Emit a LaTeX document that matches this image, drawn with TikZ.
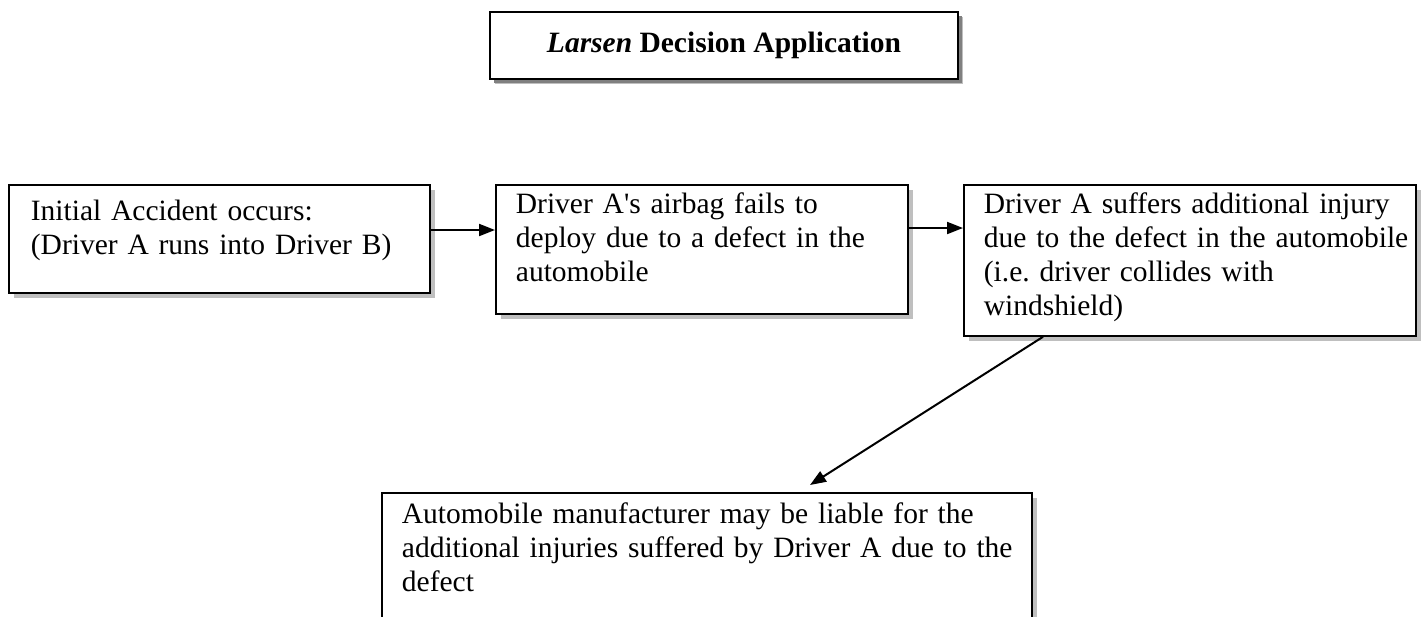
\documentclass[tikz,border=0pt]{standalone}
\usepackage{fontspec}
\setmainfont{Liberation Serif}
\usepackage{tikz}
\usetikzlibrary{calc}
\usetikzlibrary{positioning}
\usetikzlibrary{shadows}
\usetikzlibrary{arrows.meta}
\frenchspacing

\begin{document}
\begin{tikzpicture}[x=1pt, y=1pt,
        box/.style={rectangle, draw=black, line width=1.8pt, fill=white, anchor=north west, align=left,
            inner ysep=0pt, inner xsep=5pt, font=\fontsize{29.5}{34}\selectfont,
            execute at begin node={\leftskip=15pt},
            drop shadow={shadow xshift=5pt, shadow yshift=-5pt, fill=black!25, opacity=1}},
        link/.style={line width=2pt, -{Triangle[length=16pt, width=12pt]}}]
            \useasboundingbox (0, 0) rectangle (1423, -616);
            \clip (0, 0) rectangle (1423, -616);
            \node[box, anchor=center, minimum width=468pt, minimum height=67pt, inner xsep=10pt,
                font=\fontsize{29.5}{34}\selectfont\bfseries, execute at begin node={},
                drop shadow={shadow xshift=4pt, shadow yshift=-4pt, fill=black!50, opacity=1}]
                (title) at (724, -45.5) {\textit{Larsen} Decision Application};
            \node[box, text width=407pt, inner xsep=7pt, text height=36pt, text depth=72pt]
                (initial) at (8, -184) {Initial Accident occurs:\\(Driver A runs into Driver B)};
            \node[box, text width=402pt, text height=29pt, text depth=100pt]
                (airbag) at (495, -184) {Driver A\textquotesingle s airbag fails to\\deploy due to a defect in the\\automobile};
            \node[box, text width=442pt, text height=29pt, text depth=122pt]
                (injury) at (963, -184) {Driver A suffers additional injury\\due to the defect in the automobile\\(i.e. driver collides with\\windshield)};
            \node[box, text width=640pt, text height=31pt, text depth=140pt]
                (liable) at (381, -492) {Automobile manufacturer may be liable for the\\additional injuries suffered by Driver A due to the\\defect};
            \draw[link] ([yshift=-46pt]initial.north east) -- ([yshift=-46pt]airbag.north west);
            \draw[link] ([yshift=-44pt]airbag.north east) -- ([yshift=-44pt]injury.north west);
            \draw[link] ([xshift=80pt]injury.south west) -- ([xshift=429pt, yshift=7pt]liable.north west);
        \end{tikzpicture}
\end{document}
